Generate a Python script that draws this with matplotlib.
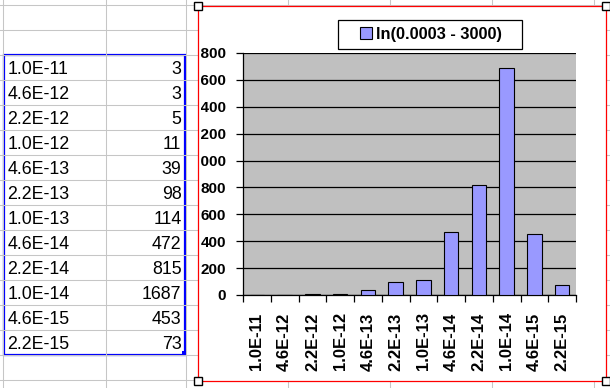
import matplotlib.pyplot as plt
from matplotlib.patches import Rectangle
from matplotlib.transforms import Bbox, TransformedBbox

plt.rcParams['font.family'] = ['Liberation Sans', 'DejaVu Sans']

# data
labels = ["1.0E-11", "4.6E-12", "2.2E-12", "1.0E-12", "4.6E-13", "2.2E-13",
          "1.0E-13", "4.6E-14", "2.2E-14", "1.0E-14", "4.6E-15", "2.2E-15"]
counts = [3, 3, 5, 11, 39, 98, 114, 472, 815, 1687, 453, 73]
series_name = "ln(0.0003 - 3000)"
y_ticks = list(range(0, 1801, 200))

W, H = 610, 388
fig = plt.figure(figsize=(W / 100, H / 100), dpi=100)

# spreadsheet background, pixel coordinates
bg = fig.add_axes([0, 0, 1, 1])
bg.set_xlim(0, W)
bg.set_ylim(H, 0)
bg.axis('off')

grid_col = '#c6c6c6'
for y in range(5, H, 25):
    bg.plot([0, W], [y, y], color=grid_col, lw=0.75)
for x in [3, 106, 186, 288, 390, 492, 594]:
    bg.plot([x, x], [0, H], color=grid_col, lw=0.75)

# cell contents
for i, (lab, val) in enumerate(zip(labels, counts)):
    yb = 74 + 25 * i
    bg.text(7.5, yb, lab, fontsize=12.8, va='baseline', ha='left')
    bg.text(181.5, yb, str(val), fontsize=12.8, va='baseline', ha='right')

# selection border
bg.add_patch(Rectangle((4, 55), 181, 300, fill=False, ec='#0000ff', lw=1.6))
bg.add_patch(Rectangle((182, 351), 5, 5, fc='#0000ff', ec='none'))

# chart frame
bg.add_patch(Rectangle((197.5, 6), 408, 375, fc='white', ec='#ff0000', lw=0.9, zorder=3))
for cx, cy in [(197.5, 6), (605.5, 6), (197.5, 381), (605.5, 381)]:
    bg.add_patch(Rectangle((cx - 4, cy - 4), 8, 8, fc='white', ec='black', lw=1, zorder=4))

# legend box
bg.add_patch(Rectangle((337.5, 19.5), 184, 29, fc='white', ec='black', lw=0.9, zorder=5))

# chart
left, right, top, bottom = 243, 576, 53, 295
ax = fig.add_axes([left / W, 1 - bottom / H, (right - left) / W, (bottom - top) / H])
ax.set_facecolor('#c0c0c0')
x = range(len(labels))
ax.bar(x, counts, width=0.52, color='#9999ff', edgecolor='black', lw=0.8,
       label=series_name, zorder=3)
ax.set_xlim(-0.5, len(labels) - 0.5)
ax.set_ylim(0, 1800)
ax.set_yticks(y_ticks)
ax.yaxis.grid(True, color='black', lw=0.9)
ax.set_axisbelow(True)
for s in ['top', 'right']:
    ax.spines[s].set_visible(False)
for s in ['left', 'bottom']:
    ax.spines[s].set_color('black')
    ax.spines[s].set_linewidth(0.9)

ax.set_xticks(list(x))
ax.set_xticks([i - 0.5 for i in range(len(labels) + 1)], minor=True)
ax.set_xticklabels(labels, rotation=90, fontsize=12, fontweight='bold')
ax.tick_params(axis='x', which='major', length=0, pad=12.5)
ax.tick_params(axis='x', which='minor', length=5, width=0.9, direction='out')
ax.tick_params(axis='y', length=5, width=0.9, direction='out', pad=7, labelsize=11)
clip = TransformedBbox(Bbox.from_extents(201 / W, 0, 605 / W, 1), fig.transFigure)
for t in ax.get_yticklabels():
    t.set_fontweight('bold')
    t.set_clip_on(True)
    t.set_clip_box(clip)

leg = fig.legend(loc='center', bbox_to_anchor=(431 / W, 1 - 34 / H),
                 prop={'size': 11.8, 'weight': 'bold'}, frameon=False,
                 handlelength=0.7, handleheight=0.75, handletextpad=0.25,
                 borderpad=0, borderaxespad=0)

fig.savefig('out.png', dpi=100)
